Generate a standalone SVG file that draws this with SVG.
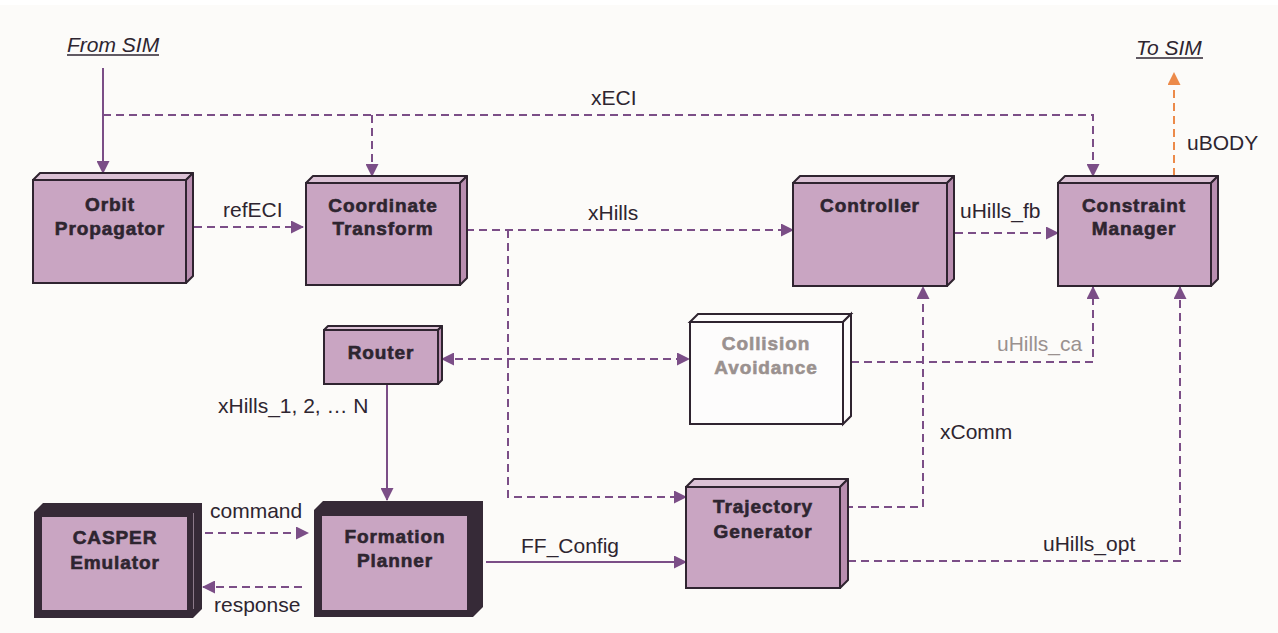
<svg xmlns="http://www.w3.org/2000/svg" width="1278" height="633" viewBox="0 0 1278 633">
<defs>
<marker id="ah" markerUnits="userSpaceOnUse" markerWidth="13" markerHeight="13" refX="12" refY="6.5" orient="auto-start-reverse" viewBox="0 0 13 13"><path d="M0,0 L13,6.5 L0,13 Z" fill="#7b4e87"/></marker>
<marker id="aho" markerUnits="userSpaceOnUse" markerWidth="13" markerHeight="13" refX="12" refY="6.5" orient="auto" viewBox="0 0 13 13"><path d="M0,0 L13,6.5 L0,13 Z" fill="#ec8a4a"/></marker>
<style>
.front{fill:#c9a5c2;stroke:#2f2430;stroke-width:2}
.top{fill:#dbc1d5;stroke:#2f2430;stroke-width:2;stroke-linejoin:round}
.side{fill:#b98eb0;stroke:#2f2430;stroke-width:2;stroke-linejoin:round}
.wfront{fill:#fdfcfc;stroke:#2f2430;stroke-width:2}
.wtop{fill:#fdfcfc;stroke:#2f2430;stroke-width:2}
.dark{fill:#362a37}
.nt{font-family:"Liberation Sans",Arial,sans-serif;font-weight:bold;font-size:19px;letter-spacing:0.9px;fill:#2e2530;stroke:#2e2530;stroke-width:0.6;text-anchor:middle}
.gt{fill:#9a918f;stroke:#9a918f}
.lb{font-family:"Liberation Sans",Arial,sans-serif;font-size:21px;fill:#2e2530}
.lg{fill:#9a918f}
.it{font-style:italic}
.ul{stroke:#2e2530;stroke-width:1.5}
.d{fill:none;stroke:#7b4e87;stroke-width:2;stroke-dasharray:8,5;marker-end:url(#ah)}
.s{fill:none;stroke:#7b4e87;stroke-width:2;marker-end:url(#ah)}
.o{fill:none;stroke:#ec8a4a;stroke-width:2;stroke-dasharray:8,5;marker-end:url(#aho)}
</style>
</defs>
<rect x="0" y="0" width="1278" height="633" fill="#ffffff"/>
<rect x="0" y="5" width="1278" height="628" fill="#fcfbf9"/>

<g id="connectors">
<path class="s" d="M103,68 V173"/>
<path class="d" d="M103,115 H1093 V176"/>
<path class="d" d="M372,115 V176"/>
<path class="d" d="M194,227 H303"/>
<path class="d" d="M466,230 H793"/>
<path class="d" d="M508,230 V497 H686"/>
<path class="d" d="M955,233 H1058"/>
<path class="o" d="M1174,176 V73"/>
<path class="d" d="M442,359 H689" marker-start="url(#ah)"/>
<path class="d" d="M851,362 H1093 V287"/>
<path class="s" d="M387,384 V500"/>
<path class="d" d="M205,533 H308"/>
<path class="d" d="M302,587 H203"/>
<path class="s" d="M486,562 H686"/>
<path class="d" d="M845,507 H923 V287"/>
<path class="d" d="M848,561 H1180 V287"/>
</g>

<g id="labels">
<text class="lb it" x="67" y="52">From SIM</text>
<line class="ul" x1="67" y1="55" x2="159" y2="55"/>
<text class="lb it" x="1136" y="55">To SIM</text>
<line class="ul" x1="1136" y1="58" x2="1203" y2="58"/>
<text class="lb" x="591" y="105">xECI</text>
<text class="lb" x="223" y="217">refECI</text>
<text class="lb" x="588" y="220">xHills</text>
<text class="lb" x="960" y="218">uHills_fb</text>
<text class="lb" x="1187" y="150">uBODY</text>
<text class="lb lg" x="997" y="351">uHills_ca</text>
<text class="lb" x="940" y="439">xComm</text>
<text class="lb" x="1043" y="551">uHills_opt</text>
<text class="lb" x="218" y="413">xHills_1, 2, … N</text>
<text class="lb" x="210" y="518">command</text>
<text class="lb" x="214" y="612">response</text>
<text class="lb" x="521" y="553">FF_Config</text>
</g>

<g id="orbit-propagator">
<polygon class="top" points="33,180 40,173 193,173 186,180"/>
<polygon class="side" points="186,180 193,173 193,276 186,283"/>
<rect class="front" x="33" y="180" width="153" height="103"/>
<text class="nt" x="110" y="211">Orbit</text>
<text class="nt" x="110" y="235">Propagator</text>
</g>

<g id="coordinate-transform">
<polygon class="top" points="306,183 313,176 467,176 460,183"/>
<polygon class="side" points="460,183 467,176 467,278 460,285"/>
<rect class="front" x="306" y="183" width="154" height="102"/>
<text class="nt" x="383" y="212">Coordinate</text>
<text class="nt" x="383" y="235">Transform</text>
</g>

<g id="controller">
<polygon class="top" points="793,183 800,176 954,176 947,183"/>
<polygon class="side" points="947,183 954,176 954,279 947,286"/>
<rect class="front" x="793" y="183" width="154" height="103"/>
<text class="nt" x="870" y="212">Controller</text>
</g>

<g id="constraint-manager">
<polygon class="top" points="1058,183 1065,176 1218,176 1211,183"/>
<polygon class="side" points="1211,183 1218,176 1218,279 1211,286"/>
<rect class="front" x="1058" y="183" width="153" height="103"/>
<text class="nt" x="1134" y="212">Constraint</text>
<text class="nt" x="1134" y="235">Manager</text>
</g>

<g id="router">
<polygon class="top" points="324,330 328,326 442,326 438,330"/>
<polygon class="side" points="438,330 442,326 442,380 438,384"/>
<rect class="front" x="324" y="330" width="114" height="54"/>
<text class="nt" x="381" y="359">Router</text>
</g>

<g id="collision-avoidance">
<polygon class="wtop" points="690,322 698,314 851,314 843,322"/>
<polygon class="wtop" points="843,322 851,314 851,416 843,424"/>
<rect class="wfront" x="690" y="322" width="153" height="102"/>
<text class="nt gt" x="766" y="350">Collision</text>
<text class="nt gt" x="766" y="374">Avoidance</text>
</g>

<g id="trajectory-generator">
<polygon class="top" points="686,487 694,479 848,479 840,487"/>
<polygon class="side" points="840,487 848,479 848,580 840,588"/>
<rect class="front" x="686" y="487" width="154" height="101"/>
<text class="nt" x="763" y="513">Trajectory</text>
<text class="nt" x="763" y="538">Generator</text>
</g>

<g id="casper-emulator">
<polygon class="dark" points="34,512 43,503 202,503 202,609 193,618 34,618"/>
<rect x="42" y="517" width="145" height="93" fill="#c9a5c2"/>
<line x1="193.5" y1="513" x2="193.5" y2="609" stroke="#8c7a8a" stroke-width="1"/>
<text class="nt" x="115" y="544">CASPER</text>
<text class="nt" x="115" y="569">Emulator</text>
</g>

<g id="formation-planner">
<polygon class="dark" points="314,510 323,501 483,501 483,607 473,617 314,617"/>
<rect x="322" y="516" width="145" height="94" fill="#c9a5c2"/>
<text class="nt" x="395" y="543">Formation</text>
<text class="nt" x="395" y="567">Planner</text>
</g>
</svg>
